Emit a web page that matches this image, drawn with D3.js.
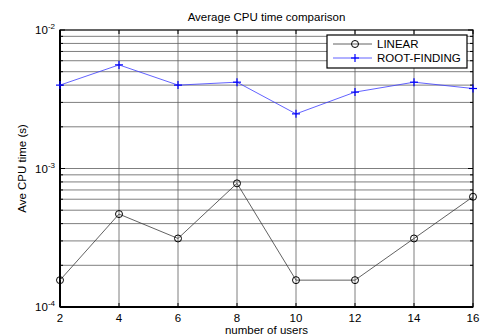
<!DOCTYPE html>
<html lang="en">
<head>
<meta charset="UTF-8">
<title>Average CPU time comparison</title>
<script src="https://d3js.org/d3.v7.min.js"></script>
<style>
  body { margin: 0; background: #fff; font-family: "Liberation Sans", Arial, sans-serif; }
  svg text { fill: #000; }
</style>
</head>
<body>
<script>
// data
const users = [2, 4, 6, 8, 10, 12, 14, 16];
const linearTime = [1.5625e-4, 4.6875e-4, 3.125e-4, 7.8125e-4, 1.5625e-4, 1.5625e-4, 3.125e-4, 6.25e-4];
const rootTime = [4.0e-3, 5.6e-3, 4.0e-3, 4.2e-3, 2.48e-3, 3.56e-3, 4.2e-3, 3.78e-3];
const decadeExps = [-4, -3, -2];
const seriesNames = ["LINEAR", "ROOT-FINDING"];

const W = 481, H = 336;
const margin = {top: 30, right: 8, bottom: 29, left: 60};
const width = W - margin.left - margin.right;
const height = H - margin.top - margin.bottom;
const fs = "11.5px";

const svg = d3.select("body").append("svg")
    .attr("width", W)
    .attr("height", H);

const g = svg.append("g")
    .attr("transform", `translate(${margin.left},${margin.top})`);

const x = d3.scaleLinear().domain([2, 16]).range([0, width]);
const y = d3.scaleLog().domain([1e-4, 1e-2]).range([height, 0]);

// minor log values 2..9 in each decade
const minorVals = [];
decadeExps.slice(0, -1).forEach(e => {
    for (let k = 2; k <= 9; k++) minorVals.push(k * Math.pow(10, e));
});
const majorVals = decadeExps.map(e => Math.pow(10, e));

// grid
const grid = g.append("g").attr("stroke", "#5e5e5e").attr("stroke-width", 0.8);
grid.selectAll(".vg").data(users.slice(1, -1)).enter().append("line")
    .attr("x1", d => x(d)).attr("x2", d => x(d))
    .attr("y1", 0).attr("y2", height);
grid.selectAll(".hg").data(minorVals.concat(majorVals.slice(1, -1))).enter().append("line")
    .attr("x1", 0).attr("x2", width)
    .attr("y1", d => y(d)).attr("y2", d => y(d));

// ticks (inward, both sides)
const tk = g.append("g").attr("stroke", "#000").attr("stroke-width", 1);
users.forEach(u => {
    tk.append("line").attr("x1", x(u)).attr("x2", x(u)).attr("y1", height).attr("y2", height - 4);
    tk.append("line").attr("x1", x(u)).attr("x2", x(u)).attr("y1", 0).attr("y2", 4);
});
minorVals.concat(majorVals).forEach(v => {
    const len = majorVals.includes(v) ? 5 : 3;
    tk.append("line").attr("x1", 0).attr("x2", len).attr("y1", y(v)).attr("y2", y(v));
    tk.append("line").attr("x1", width).attr("x2", width - len).attr("y1", y(v)).attr("y2", y(v));
});

// box
g.append("rect")
    .attr("width", width).attr("height", height)
    .attr("fill", "none").attr("stroke", "#000").attr("stroke-width", 1.2);
g.append("line").attr("x1", 0).attr("x2", width).attr("y1", height).attr("y2", height)
    .attr("stroke", "#000").attr("stroke-width", 2);
g.append("line").attr("x1", 0).attr("x2", 0).attr("y1", 0).attr("y2", height)
    .attr("stroke", "#000").attr("stroke-width", 2);

// x tick labels
g.selectAll(".xl").data(users).enter().append("text")
    .attr("x", d => x(d)).attr("y", height + 15)
    .attr("text-anchor", "middle")
    .style("font-size", fs)
    .text(d => d);

// y tick labels 10^e
decadeExps.forEach(e => {
    const t = g.append("text")
        .attr("x", -5).attr("y", y(Math.pow(10, e)) + 4)
        .attr("text-anchor", "end")
        .style("font-size", fs);
    t.append("tspan").text("10");
    t.append("tspan").attr("dy", -5).style("font-size", "8px").text(e);
});

// series
const line = d3.line().x(d => x(d[0])).y(d => y(d[1]));
const linData = users.map((u, i) => [u, linearTime[i]]);
const rootData = users.map((u, i) => [u, rootTime[i]]);

g.append("path").datum(linData).attr("d", line)
    .attr("fill", "none").attr("stroke", "#3a3a3a").attr("stroke-width", 0.8);
g.selectAll(".lm").data(linData).enter().append("circle")
    .attr("cx", d => x(d[0])).attr("cy", d => y(d[1])).attr("r", 3.5)
    .attr("fill", "none").attr("stroke", "#000").attr("stroke-width", 1);

g.append("path").datum(rootData).attr("d", line)
    .attr("fill", "none").attr("stroke", "#3b3bff").attr("stroke-width", 0.8);
const plus = (sel, cx, cy, s) => {
    sel.append("line").attr("x1", cx - s).attr("x2", cx + s).attr("y1", cy).attr("y2", cy);
    sel.append("line").attr("x1", cx).attr("x2", cx).attr("y1", cy - s).attr("y2", cy + s);
};
const rm = g.append("g").attr("stroke", "#0000ff").attr("stroke-width", 1.2);
rootData.forEach(d => plus(rm, x(d[0]), y(d[1]), 4));

// legend
const lg = svg.append("g").attr("transform", "translate(327,35)");
lg.append("rect").attr("width", 140).attr("height", 33)
    .attr("fill", "#fff").attr("stroke", "#000").attr("stroke-width", 1.2);
lg.append("line").attr("x1", 6).attr("x2", 45).attr("y1", 9).attr("y2", 9)
    .attr("stroke", "#3a3a3a").attr("stroke-width", 0.8);
lg.append("circle").attr("cx", 28).attr("cy", 9).attr("r", 3.5)
    .attr("fill", "none").attr("stroke", "#000");
lg.append("line").attr("x1", 6).attr("x2", 45).attr("y1", 23).attr("y2", 23)
    .attr("stroke", "#3b3bff").attr("stroke-width", 0.8);
const lgp = lg.append("g").attr("stroke", "#0000ff").attr("stroke-width", 1.2);
plus(lgp, 28, 23, 4);
seriesNames.forEach((n, i) => {
    lg.append("text").attr("x", 50).attr("y", 13 + i * 14)
        .style("font-size", fs).text(n);
});

// titles
svg.append("text")
    .attr("x", margin.left + width / 2).attr("y", 21)
    .attr("text-anchor", "middle").style("font-size", fs)
    .text("Average CPU time comparison");
svg.append("text")
    .attr("x", margin.left + width / 2).attr("y", 334)
    .attr("text-anchor", "middle").style("font-size", fs)
    .text("number of users");
svg.append("text")
    .attr("transform", `translate(26,${margin.top + height / 2}) rotate(-90)`)
    .attr("text-anchor", "middle").style("font-size", fs)
    .text("Ave CPU time (s)");
</script>
</body>
</html>
